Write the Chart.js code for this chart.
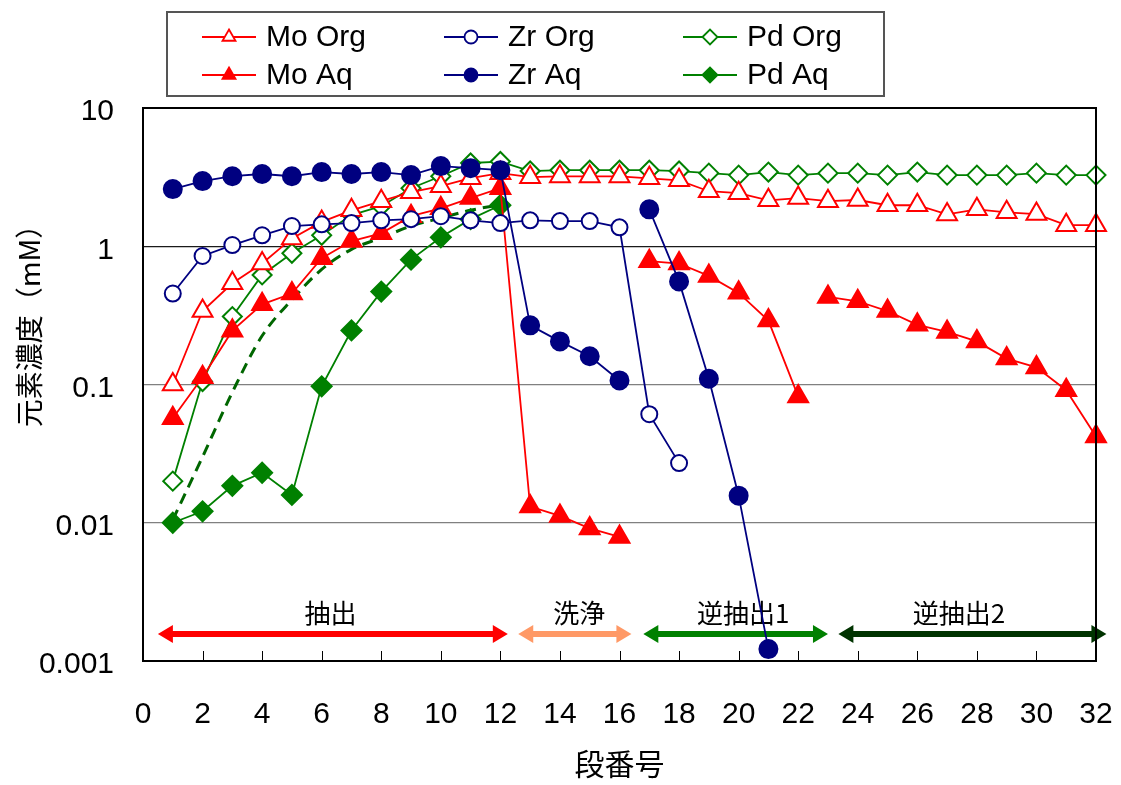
<!DOCTYPE html>
<html>
<head>
<meta charset="utf-8">
<script src="https://cdn.jsdelivr.net/npm/chart.js@4.4.1/dist/chart.umd.min.js"></script>
<style>
  html, body { margin: 0; padding: 0; background: #ffffff; }
  canvas { display: block; }
</style>
</head>
<body>
<canvas id="chart" width="1121" height="785"></canvas>
<script>
// ---- data: element concentration (mM) per stage number ----
const stages = [1, 2, 3, 4, 5, 6, 7, 8, 9, 10, 11, 12, 13, 14, 15, 16,
                17, 18, 19, 20, 21, 22, 23, 24, 25, 26, 27, 28, 29, 30, 31, 32];

const moOrg = [0.10, 0.34, 0.54, 0.75, 1.14, 1.50, 1.82, 2.12, 2.46, 2.72, 3.11, 3.38,
               3.16, 3.20, 3.20, 3.20, 3.10, 3.00, 2.50, 2.42, 2.15, 2.23, 2.12, 2.16,
               1.98, 1.98, 1.70, 1.85, 1.76, 1.71, 1.42, 1.42];
const moAq  = [0.057, 0.113, 0.245, 0.38, 0.455, 0.82, 1.09, 1.24, 1.65, 1.88, 2.23, 2.63,
               0.0131, 0.0112, 0.0091, 0.0079, 0.78, 0.75, 0.61, 0.46, 0.29, 0.082,
               0.43, 0.40, 0.34, 0.27, 0.24, 0.205, 0.154, 0.133, 0.091, 0.042];
const zrOrg = [0.455, 0.85, 1.02, 1.20, 1.40, 1.44, 1.47, 1.54, 1.57, 1.65, 1.54, 1.47,
               1.54, 1.52, 1.52, 1.37, 0.061, 0.027];
const zrAq  = [2.59, 2.96, 3.21, 3.33, 3.21, 3.44, 3.33, 3.44, 3.27, 3.80, 3.67, 3.55,
               0.268, 0.205, 0.160, 0.107, 1.85, 0.557, 0.110, 0.0157, 0.00122];
const pdOrg = [0.020, 0.105, 0.31, 0.62, 0.89, 1.20, 1.68, 1.95, 2.63, 3.21, 4.00, 4.10,
               3.50, 3.55, 3.55, 3.55, 3.55, 3.50, 3.38, 3.27, 3.44, 3.27, 3.38, 3.38,
               3.27, 3.44, 3.27, 3.27, 3.27, 3.38, 3.27, 3.27];
const pdAq  = [0.010, 0.0121, 0.0185, 0.023, 0.0159, 0.097, 0.246, 0.47, 0.80, 1.16, 1.57, 1.98];
// smooth trend for Pd in the aqueous phase over the extraction stages
const pdAqTrend = [0.0105, 0.030, 0.088, 0.225, 0.41, 0.68, 0.95, 1.15, 1.40, 1.60, 1.82, 2.00];

// stages after which a series' line is not continued
const moAqBreaks = [16, 22];
const zrAqBreaks = [16];

// axis ticks
const xTicks = [0, 2, 4, 6, 8, 10, 12, 14, 16, 18, 20, 22, 24, 26, 28, 30, 32];
const yTicks = [0.001, 0.01, 0.1, 1, 10];

// process sections shown along the bottom of the plot
const sectionLabels = ['抽出', '洗浄', '逆抽出1', '逆抽出2'];
const sectionFrom   = [0.5, 12.6, 16.8, 23.35];
const sectionTo     = [12.25, 16.4, 23.0, 32.35];
const sectionMid    = [6.3, 14.65, 20.15, 27.4];
const sectionColors = ['#ff0000', '#ff9966', '#008000', '#003300'];

const RED = '#ff0000', NAVY = '#000080', GREEN = '#008000';
const LATIN = "'Liberation Sans', Arial, sans-serif";
const CJK = "'Noto Sans CJK JP', 'Noto Sans', sans-serif";

function points(values) {
  return values.map((v, i) => ({ x: stages[i], y: v }));
}

function series(label, values, color, style, radius, filled, breaks) {
  return {
    label,
    data: points(values),
    borderColor: color,
    backgroundColor: filled ? color : '#ffffff',
    borderWidth: 1.8,
    pointStyle: style,
    pointRadius: radius,
    pointHoverRadius: radius,
    pointBorderColor: color,
    pointBackgroundColor: filled ? color : '#ffffff',
    pointBorderWidth: 2,
    tension: 0,
    clip: false,
    segment: breaks ? {
      borderColor: ctx => breaks.includes(ctx.p0.parsed.x) ? 'rgba(0,0,0,0)' : color
    } : undefined
  };
}

// first dataset is drawn on top
const datasets = [
  series('Zr Aq',  zrAq,  NAVY,  'circle',   9,    true,  zrAqBreaks),
  series('Zr Org', zrOrg, NAVY,  'circle',   8,    false, null),
  series('Mo Aq',  moAq,  RED,   'triangle', 11.5, true,  moAqBreaks),
  series('Pd Aq',  pdAq,  GREEN, 'rectRot',  10,   true,  null),
  series('Mo Org', moOrg, RED,   'triangle', 11.5, false, null),
  series('Pd Org', pdOrg, GREEN, 'rectRot',  9.5,  false, null),
  {
    label: 'Pd Aq trend',
    data: points(pdAqTrend),
    borderColor: '#006600',
    borderWidth: 3,
    borderDash: [11, 7],
    pointRadius: 0,
    cubicInterpolationMode: 'monotone',
    clip: false
  }
];

// legend layout: 3 columns x 2 rows
const legendOrder = ['Mo Org', 'Zr Org', 'Pd Org', 'Mo Aq', 'Zr Aq', 'Pd Aq'];

function drawMarker(ctx, style, r, x, y, fill, stroke, lw) {
  ctx.save();
  ctx.beginPath();
  if (style === 'circle') {
    ctx.arc(x, y, r, 0, Math.PI * 2);
  } else if (style === 'triangle') {
    for (let k = 0; k < 3; k++) {
      const a = k * 2 * Math.PI / 3;
      const px = x + Math.sin(a) * r, py = y - Math.cos(a) * r;
      k ? ctx.lineTo(px, py) : ctx.moveTo(px, py);
    }
    ctx.closePath();
  } else {
    ctx.moveTo(x - r, y); ctx.lineTo(x, y - r); ctx.lineTo(x + r, y); ctx.lineTo(x, y + r);
    ctx.closePath();
  }
  ctx.fillStyle = fill; ctx.fill();
  ctx.lineWidth = lw; ctx.strokeStyle = stroke; ctx.stroke();
  ctx.restore();
}

const decorations = {
  id: 'decorations',
  beforeDraw(chart) {
    const ctx = chart.ctx;
    ctx.save();
    ctx.fillStyle = '#ffffff';
    ctx.fillRect(0, 0, chart.width, chart.height);
    ctx.restore();
  },
  beforeDatasetsDraw(chart) {
    const { ctx, scales: { x, y } } = chart;
    ctx.save();
    // section arrows with labels
    const ay = y.getPixelForValue(0.00157);
    const ty = y.getPixelForValue(0.00222);
    sectionLabels.forEach((label, i) => {
      const x0 = x.getPixelForValue(sectionFrom[i]);
      const x1 = x.getPixelForValue(sectionTo[i]);
      const head = 15, half = 9, shaft = 3;
      ctx.fillStyle = sectionColors[i];
      ctx.beginPath();
      ctx.moveTo(x0, ay);
      ctx.lineTo(x0 + head, ay - half);
      ctx.lineTo(x0 + head, ay - shaft);
      ctx.lineTo(x1 - head, ay - shaft);
      ctx.lineTo(x1 - head, ay - half);
      ctx.lineTo(x1, ay);
      ctx.lineTo(x1 - head, ay + half);
      ctx.lineTo(x1 - head, ay + shaft);
      ctx.lineTo(x0 + head, ay + shaft);
      ctx.lineTo(x0 + head, ay + half);
      ctx.closePath();
      ctx.fill();
      ctx.fillStyle = '#000000';
      ctx.font = '26px ' + CJK;
      ctx.textAlign = 'center';
      ctx.textBaseline = 'middle';
      ctx.fillText(label, x.getPixelForValue(sectionMid[i]), ty);
    });
    ctx.restore();
  },
  afterDraw(chart) {
    const { ctx, chartArea: a, scales: { x } } = chart;
    ctx.save();
    // inward tick marks on the bottom axis
    ctx.strokeStyle = '#000000';
    ctx.lineWidth = 1;
    xTicks.forEach(v => {
      const px = Math.round(x.getPixelForValue(v)) + 0.5;
      ctx.beginPath();
      ctx.moveTo(px, a.bottom);
      ctx.lineTo(px, a.bottom - 10);
      ctx.stroke();
    });
    // plot frame
    ctx.lineWidth = 2;
    ctx.strokeRect(a.left, a.top, a.right - a.left, a.bottom - a.top);

    // vertical axis title
    ctx.save();
    ctx.translate(29, 319);
    ctx.rotate(-Math.PI / 2);
    ctx.fillStyle = '#000000';
    ctx.font = '28px ' + CJK;
    ctx.textAlign = 'center';
    ctx.textBaseline = 'middle';
    ctx.fillText('元素濃度（mM）', 0, 0);
    ctx.restore();

    // legend box
    ctx.fillStyle = '#ffffff';
    ctx.fillRect(167, 12, 717, 84);
    ctx.strokeStyle = '#555555';
    ctx.lineWidth = 2;
    ctx.strokeRect(167, 12, 717, 84);
    const colX = [202, 444, 683];
    const rowY = [37, 75];
    legendOrder.forEach((name, i) => {
      const ds = chart.data.datasets.find(d => d.label === name);
      const lx = colX[i % 3], ly = rowY[Math.floor(i / 3)];
      ctx.strokeStyle = ds.borderColor;
      ctx.lineWidth = 1.8;
      ctx.beginPath();
      ctx.moveTo(lx, ly);
      ctx.lineTo(lx + 54, ly);
      ctx.stroke();
      const r = ds.pointStyle === 'circle' ? 6.5 : 7.5;
      drawMarker(ctx, ds.pointStyle, r, lx + 27, ly, ds.pointBackgroundColor, ds.pointBorderColor, 1.8);
      ctx.fillStyle = '#000000';
      ctx.font = '30px ' + LATIN;
      ctx.textAlign = 'left';
      ctx.textBaseline = 'middle';
      ctx.fillText(name, lx + 64, ly + 1);
    });
    ctx.restore();
  }
};

new Chart(document.getElementById('chart'), {
  type: 'line',
  data: { datasets },
  plugins: [decorations],
  options: {
    responsive: false,
    animation: false,
    events: [],
    layout: { padding: { top: 108, right: 25, left: 0, bottom: 0 } },
    plugins: { legend: { display: false }, tooltip: { enabled: false } },
    scales: {
      x: {
        type: 'linear',
        min: 0,
        max: 32,
        afterBuildTicks: s => { s.ticks = xTicks.map(v => ({ value: v })); },
        afterFit: s => { s.height = 124; s.paddingLeft = 0; s.paddingRight = 0; },
        grid: { display: false, drawTicks: false },
        border: { display: false },
        ticks: {
          padding: 36,
          maxRotation: 0,
          autoSkip: false,
          color: '#000000',
          font: { family: LATIN, size: 30 }
        },
        title: {
          display: true,
          text: '段番号',
          color: '#000000',
          font: { family: CJK, size: 30 },
          padding: { top: 0, bottom: 3 }
        }
      },
      y: {
        type: 'logarithmic',
        min: 0.001,
        max: 10,
        afterBuildTicks: s => { s.ticks = yTicks.map(v => ({ value: v })); },
        afterFit: s => { s.width = 143; s.paddingTop = 0; s.paddingBottom = 0; },
        grid: {
          drawTicks: false,
          lineWidth: 1.2,
          color: c => (c.tick && c.tick.value === 1) ? '#1a1a1a' : '#808080'
        },
        border: { display: false },
        ticks: {
          padding: 29,
          labelOffset: 4,
          autoSkip: false,
          color: '#000000',
          font: { family: LATIN, size: 30 },
          callback: v => String(v)
        }
      }
    }
  }
});
</script>
</body>
</html>
